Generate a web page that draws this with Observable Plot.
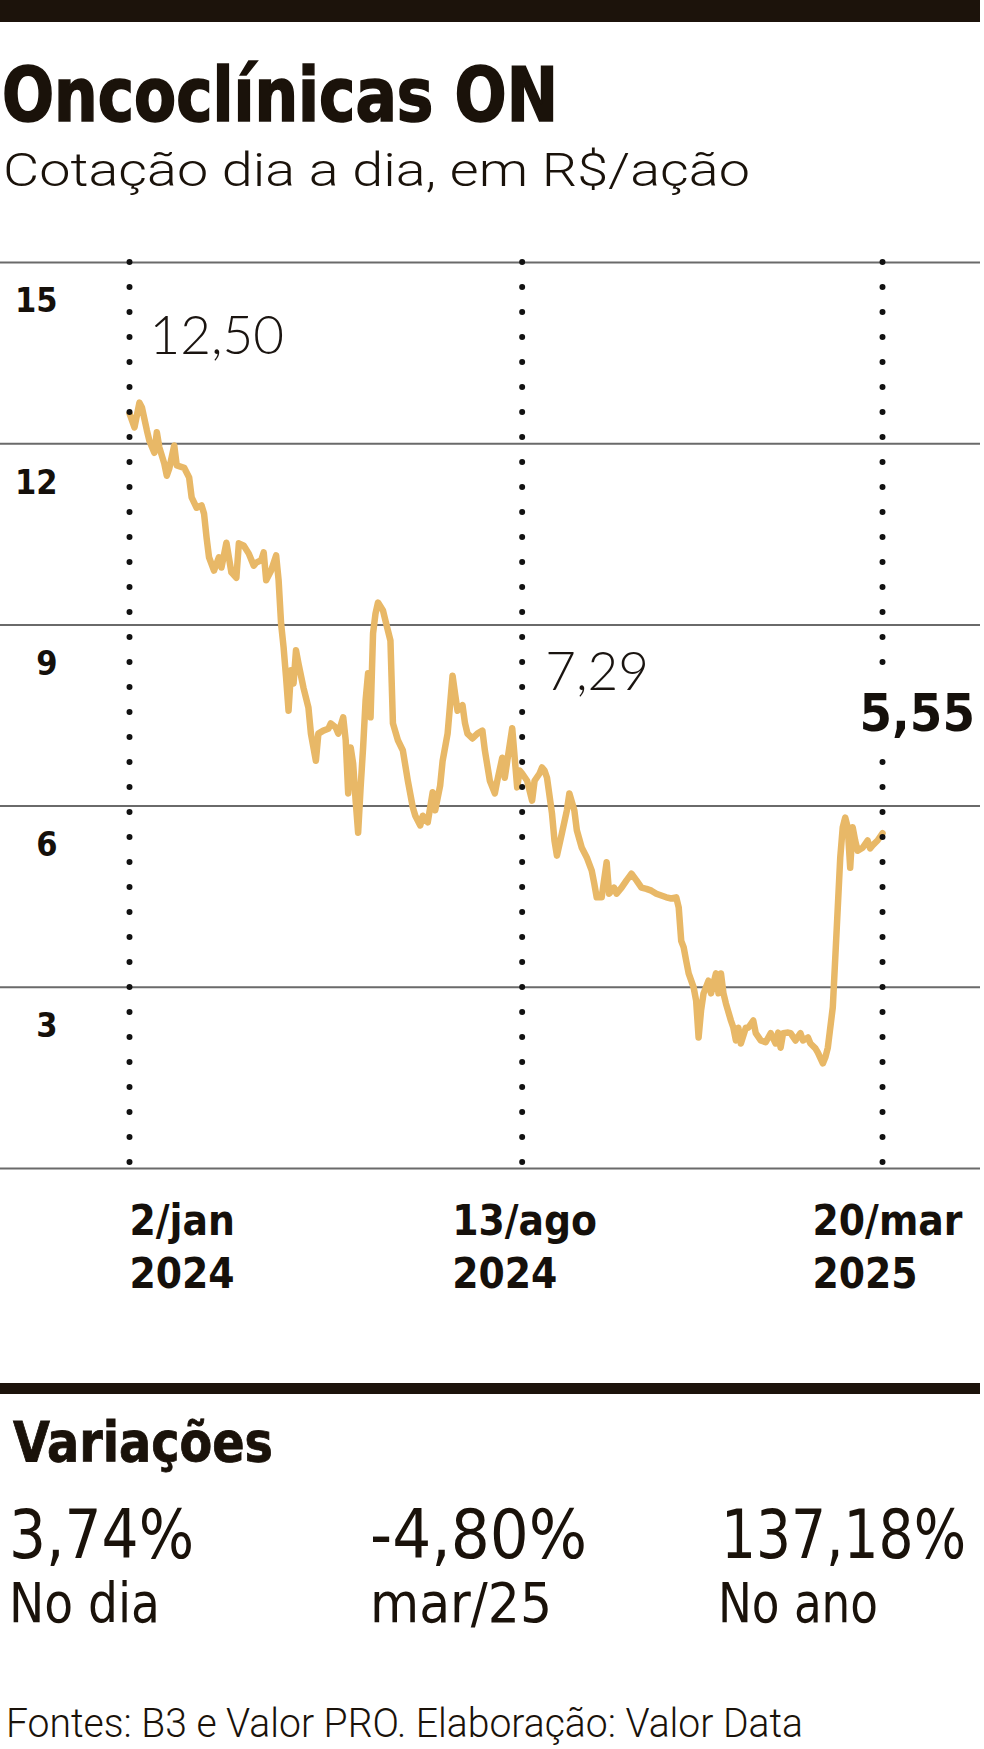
<!DOCTYPE html>
<html lang="pt-BR">
<head>
<meta charset="utf-8">
<script src="https://cdn.jsdelivr.net/npm/d3@7"></script>
<script src="https://cdn.jsdelivr.net/npm/@observablehq/plot@0.6"></script>
<style>
  html, body { margin: 0; padding: 0; background: #fff; }
  body { position: relative; width: 984px; height: 1749px; overflow: hidden; color: #1a120a; }
  .barra { position: absolute; left: 0; background: #1c130b; }
  .t { position: absolute; white-space: nowrap; line-height: 1; transform-origin: 0 0; }
  #grafico { position: absolute; left: 0; top: 230px; }
</style>
</head>
<body>
<div class="barra" style="top:0;width:980px;height:22px"></div>
<div class="barra" style="top:1383px;width:980px;height:11px"></div>
<div id="grafico"></div>
<script>
// ---------- Dados ----------
const titulo = "Oncoclínicas ON";
const subtitulo = "Cotação dia a dia, em R$/ação";
const fonte = "Fontes: B3 e Valor PRO. Elaboração: Valor Data";

// índice do pregão (2/jan/2024 = 0 ... 20/mar/2025 = 303)
const pregoes = [0,2,4,5,7,8,10,11,12,14,15,16,18,19,22,24,25,27,29,30,31,32,34,36,37,39,41,43,44,46,48,50,51,53,54,55,57,59,60,61,62,63,64,65,66,67,68,70,72,73,75,76,78,80,81,83,84,86,87,88,89,90,91,92,93,94,95,96,97,98,99,100,102,103,105,106,108,110,112,114,115,117,118,120,122,123,125,126,128,130,131,132,134,135,136,138,140,142,143,145,147,148,150,151,154,156,157,158,160,162,163,165,166,167,168,170,171,172,174,176,177,179,180,182,184,186,187,188,190,192,193,195,196,198,200,202,204,206,208,210,212,214,216,218,220,221,222,223,224,225,227,228,229,230,231,233,234,236,237,238,239,240,242,243,244,245,246,248,249,251,252,254,256,258,260,261,262,263,265,266,268,270,271,273,274,276,277,279,280,281,283,284,285,286,287,288,289,290,291,292,293,295,297,298,299,301,303];
const cotacoes = [12.50,12.27,12.68,12.60,12.22,12.05,11.85,12.19,11.94,11.67,11.47,11.59,11.97,11.64,11.60,11.44,11.11,10.94,10.98,10.84,10.45,10.12,9.90,10.12,9.95,10.36,9.87,9.78,10.35,10.31,10.18,9.98,10.03,10.07,10.20,9.74,9.90,10.15,9.74,9.02,8.63,8.13,7.58,8.25,8.03,8.58,8.36,7.96,7.63,7.20,6.75,7.20,7.25,7.28,7.37,7.30,7.20,7.47,7.09,6.21,6.97,6.70,6.09,5.56,6.31,6.97,7.75,8.20,7.47,8.86,9.19,9.37,9.24,9.07,8.74,7.37,7.09,6.92,6.42,5.98,5.84,5.68,5.84,5.73,6.23,5.93,6.34,6.75,7.20,8.16,7.86,7.58,7.67,7.37,7.20,7.12,7.20,7.25,6.92,6.42,6.21,6.42,6.80,6.47,7.29,6.31,6.59,6.54,6.42,6.09,6.42,6.54,6.64,6.59,6.47,5.88,5.43,5.18,5.55,5.93,6.21,5.93,5.60,5.31,5.15,4.93,4.72,4.49,4.49,5.07,4.55,4.65,4.55,4.65,4.77,4.88,4.77,4.65,4.63,4.60,4.55,4.52,4.49,4.47,4.49,4.32,3.77,3.66,3.44,3.23,3.00,2.78,2.17,2.62,2.90,3.11,2.90,3.23,2.90,3.23,2.90,2.73,2.45,2.33,2.12,2.33,2.07,2.33,2.33,2.45,2.24,2.12,2.09,2.24,2.07,2.25,2.00,2.24,2.25,2.24,2.12,2.24,2.12,2.17,2.07,1.99,1.92,1.74,1.84,2.00,2.67,3.49,4.32,5.15,5.65,5.81,5.65,4.98,5.65,5.43,5.26,5.31,5.43,5.30,5.35,5.43,5.55];

// marcos de data (linhas pontilhadas)
const marcosPregao = [0, 158, 303];
const marcosRotulo = ["2/jan\n2024", "13/ago\n2024", "20/mar\n2025"];

// valores destacados
const destaquePregao = [0, 154, 303];
const destaqueValor = [12.50, 7.29, 5.55];
const destaqueTexto = ["12,50", "7,29", "5,55"];

// eixo y
const ticksY = [3, 6, 9, 12, 15];
const gradeY = [0, 3, 6, 9, 12, 15];

// variações
const variacoes = ["3,74%", "-4,80%", "137,18%"];
const periodos = ["No dia", "mar/25", "No ano"];

// ---------- Tabelas ----------
const serie = pregoes.map((p, i) => ({pregao: p, valor: cotacoes[i]}));
const marcos = marcosPregao.map((p, i) => ({pregao: p, rotulo: marcosRotulo[i]}));
const destaques = destaquePregao.map((p, i) => ({pregao: p, valor: destaqueValor[i], texto: destaqueTexto[i]}));

const negrito = "'DejaVu Sans Condensed', 'DejaVu Sans', sans-serif";
const leve = "Lato, 'Open Sans', Roboto, sans-serif";
const leveTexto = "Roboto, 'Open Sans', Lato, sans-serif";

const textoLeve = {x: "pregao", y: "valor", text: "texto", textAnchor: "start", lineAnchor: "bottom",
  fontSize: 53, fontWeight: 300, fontFamily: leve, fill: "#1a1410"};

const grafico = Plot.plot({
  width: 984,
  height: 1080,
  marginTop: 0, marginRight: 4, marginBottom: 0, marginLeft: 0,
  x: {type: "linear", domain: [0, 303], range: [129, 882], axis: null},
  y: {domain: [0, 15], range: [938, 32], axis: null},
  style: {background: "transparent", overflow: "visible", fontFamily: negrito},
  marks: [
    Plot.ruleY(gradeY, {stroke: "#6a6a6a", strokeWidth: 2}),
    Plot.text(ticksY, {y: d => d, text: d => String(d), frameAnchor: "left", textAnchor: "end",
      dx: 57, dy: 39, lineAnchor: "middle", fontSize: 34, fontWeight: "bold", fill: "#15100b", fontFamily: negrito}),
    Plot.line(serie, {x: "pregao", y: "valor", stroke: "#e8b867", strokeWidth: 6.5,
      strokeLinejoin: "round", strokeLinecap: "round"}),
    Plot.ruleX(marcos, {x: "pregao", y1: 15, y2: 0, stroke: "#111", strokeWidth: 6,
      strokeDasharray: "0 25", strokeLinecap: "round"}),
    Plot.text(destaques, {...textoLeve, filter: (d, i) => i === 0, dx: 20, dy: -60}),
    Plot.text(destaques, {...textoLeve, filter: (d, i) => i === 1, dx: 33, dy: -38}),
    Plot.text(destaques, {filter: (d, i) => i === 2, x: "pregao", y: "valor", text: "texto",
      textAnchor: "start", lineAnchor: "bottom", dx: -23, dy: -102,
      fontSize: 52, fontWeight: "bold", fontFamily: negrito, fill: "#15100b",
      stroke: "white", strokeWidth: 22, strokeLinejoin: "round", paintOrder: "stroke"}),
    Plot.text(marcos, {filter: (d, i) => i === 0, x: "pregao", y: 0, text: "rotulo",
      textAnchor: "start", lineAnchor: "top", dy: 29, lineHeight: 1.26,
      fontSize: 42, fontWeight: "bold", fontFamily: negrito, fill: "#15100b"}),
    Plot.text(marcos, {filter: (d, i) => i > 0, x: "pregao", y: 0, text: "rotulo",
      textAnchor: "start", lineAnchor: "top", dx: -70, dy: 29, lineHeight: 1.26,
      fontSize: 42, fontWeight: "bold", fontFamily: negrito, fill: "#15100b"})
  ]
});
document.getElementById("grafico").appendChild(grafico);

// ---------- Textos HTML (título, variações, fonte) ----------
function colocar(texto, o) {
  const el = document.createElement("div");
  el.className = "t";
  el.style.left = o.left + "px";
  el.style.top = "0px";
  el.style.fontSize = o.size + "px";
  el.style.fontFamily = o.family;
  el.style.fontWeight = o.weight;
  el.style.color = o.color || "#1a120a";
  if (o.stroke) el.style.webkitTextStroke = o.stroke;
  el.textContent = texto;
  const m = document.createElement("span");
  m.style.cssText = "display:inline-block;width:0;height:0;vertical-align:baseline;";
  el.appendChild(m);
  document.body.appendChild(el);
  const r = el.getBoundingClientRect();
  const base = m.getBoundingClientRect().top - r.top;
  el.style.top = (o.baseline - base) + "px";
  if (o.width) el.style.transform = "scaleX(" + (o.width / r.width) + ")";
}

colocar(titulo, {left: 2, baseline: 121, size: 74, family: negrito, weight: "bold", width: 556, stroke: "1.6px #1a120a"});
colocar(subtitulo, {left: 3, baseline: 186, size: 46, family: leveTexto, weight: 300, width: 747});
colocar("Variações", {left: 13, baseline: 1461, size: 56, family: negrito, weight: "bold", width: 260, stroke: "0.8px #1a120a"});

const colX = [9, 370, 721];
const largV = [185, 217, 245];
const largP = [151, 182, 160];
const colXP = [9, 370, 718];
variacoes.forEach((v, i) => colocar(v, {left: colX[i], baseline: 1558, size: 68, family: negrito, weight: "normal", width: largV[i]}));
periodos.forEach((p, i) => colocar(p, {left: colXP[i], baseline: 1622, size: 56, family: negrito, weight: "normal", width: largP[i]}));
colocar(fonte, {left: 6, baseline: 1737, size: 41, family: leveTexto, weight: 300, width: 797});
</script>
</body>
</html>
